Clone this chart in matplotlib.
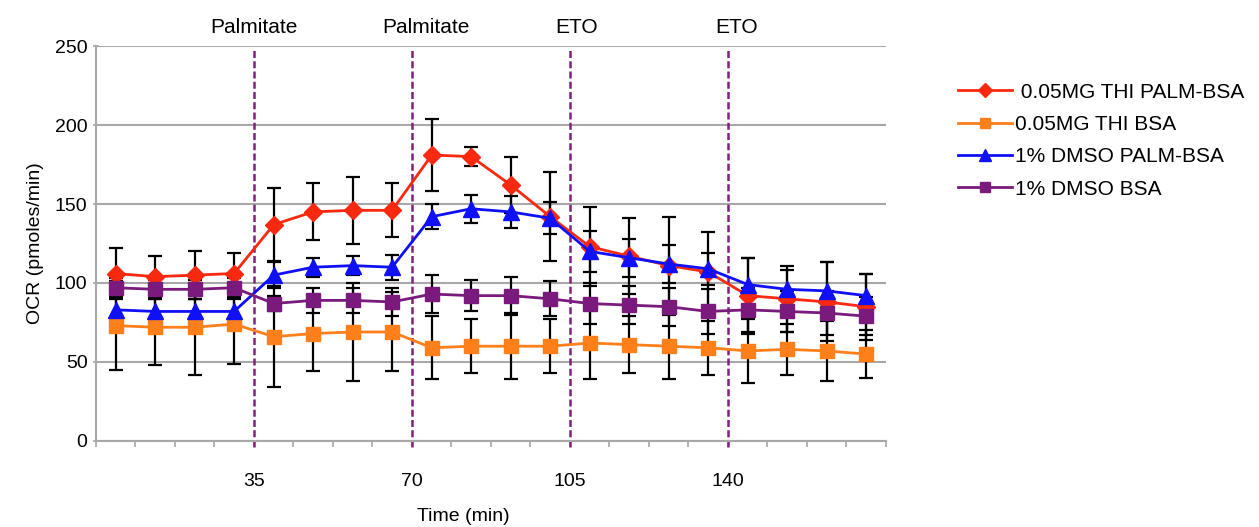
import matplotlib.pyplot as plt
import numpy as np

plt.rcParams['font.family'] = ['Liberation Sans', 'DejaVu Sans']

# time points (min), one per measurement
times = [4.4, 13.1, 21.9, 30.6, 39.4, 48.1, 56.9, 65.6, 74.4, 83.1,
         91.9, 100.6, 109.4, 118.1, 126.9, 135.6, 144.4, 153.1, 161.9, 170.6]

thi_palm = [106, 104, 105, 106, 137, 145, 146, 146, 181, 180,
            162, 142, 123, 117, 111, 107, 92, 90, 88, 85]
thi_palm_err = [16, 13, 15, 13, 23, 18, 21, 17, 23, 6,
                18, 28, 25, 24, 31, 25, 24, 21, 25, 21]

thi_bsa = [73, 72, 72, 74, 66, 68, 69, 69, 59, 60,
           60, 60, 62, 61, 60, 59, 57, 58, 57, 55]
thi_bsa_err = [28, 24, 30, 25, 32, 24, 31, 25, 20, 17,
               21, 17, 23, 18, 21, 17, 20, 16, 19, 15]

dmso_palm = [83, 82, 82, 82, 105, 110, 111, 110, 142, 147,
             145, 141, 120, 116, 112, 109, 99, 96, 95, 92]
dmso_palm_err = [8, 8, 8, 8, 8, 6, 6, 8, 8, 9,
                 10, 10, 13, 12, 12, 10, 17, 12, 18, 14]

dmso_bsa = [97, 96, 96, 97, 87, 89, 89, 88, 93, 92,
            92, 90, 87, 86, 85, 82, 83, 82, 81, 79]
dmso_bsa_err = [6, 6, 6, 6, 5, 8, 8, 9, 12, 10,
                12, 11, 13, 12, 12, 14, 14, 13, 14, 12]

series = [
    (" 0.05MG THI PALM-BSA", thi_palm, thi_palm_err, "#F8290F", "D", 9.5),
    ("0.05MG THI BSA", thi_bsa, thi_bsa_err, "#FF7F1A", "s", 10.5),
    ("1% DMSO PALM-BSA", dmso_palm, dmso_palm_err, "#1010F8", "^", 11),
    ("1% DMSO BSA", dmso_bsa, dmso_bsa_err, "#7A1A7C", "s", 10.5),
]

injections = [35, 70, 105, 140]
injection_names = ["Palmitate", "Palmitate", "ETO", "ETO"]
injection_label_x = [35, 73, 106.5, 142]

fig = plt.figure(figsize=(12.59, 5.27), dpi=100)
ax = fig.add_axes([0.0762, 0.1632, 0.6275, 0.7495])

grid_c = "#A8A8A8"
ax.set_ylim(0, 250)
ax.set_xlim(0, 175)
ax.set_yticks(np.arange(0, 251, 50))
ax.yaxis.grid(True, color=grid_c, lw=1.5)
ax.set_axisbelow(True)

for name, vals, err, col, mk, ms in series:
    ax.errorbar(times, vals, yerr=err, fmt='none', ecolor='black',
                elinewidth=1.6, capsize=5, capthick=1.6, zorder=2)
for name, vals, err, col, mk, ms in series:
    ax.plot(times, vals, color=col, lw=2, marker=mk, markersize=ms,
            markeredgecolor=col, label=name, zorder=3)

ax.vlines(injections, -4, 249, color="#80207F", lw=1.8, ls=(0, (2.8, 1.3)),
          zorder=1, clip_on=False)
for x, t in zip(injection_label_x, injection_names):
    ax.text(x, 262, t, ha='center', va='center', fontsize=15)

for s in ['top', 'right']:
    ax.spines[s].set_visible(False)
for s in ['left', 'bottom']:
    ax.spines[s].set_color(grid_c)
    ax.spines[s].set_linewidth(1.5)

ax.set_xticks(injections)
ax.set_xticklabels([str(x) for x in injections])
ax.set_xticks(np.arange(0, 175.1, 8.75), minor=True)
ax.tick_params(axis='x', which='both', length=4, width=1.2, color=grid_c,
               labelsize=14, pad=19)
ax.tick_params(axis='y', length=5, width=1.2, color=grid_c, labelsize=14,
               direction='inout', pad=3.5)

ax.set_xlabel("Time (min)", fontsize=14)
ax.xaxis.set_label_coords((463 - 96) / 790, -0.192)
ax.xaxis.label.set_va('center')
ax.set_ylabel("OCR (pmoles/min)", fontsize=14)
ax.yaxis.set_label_coords(-0.077, 0.5)
ax.yaxis.label.set_va('center')

fig.legend(loc='upper left', bbox_to_anchor=(0.761, 0.843), frameon=False,
           fontsize=15, handlelength=2.6, handletextpad=0.15, labelspacing=0.64,
           borderpad=0, borderaxespad=0, markerscale=0.75)

fig.savefig("out.png", dpi=100)
